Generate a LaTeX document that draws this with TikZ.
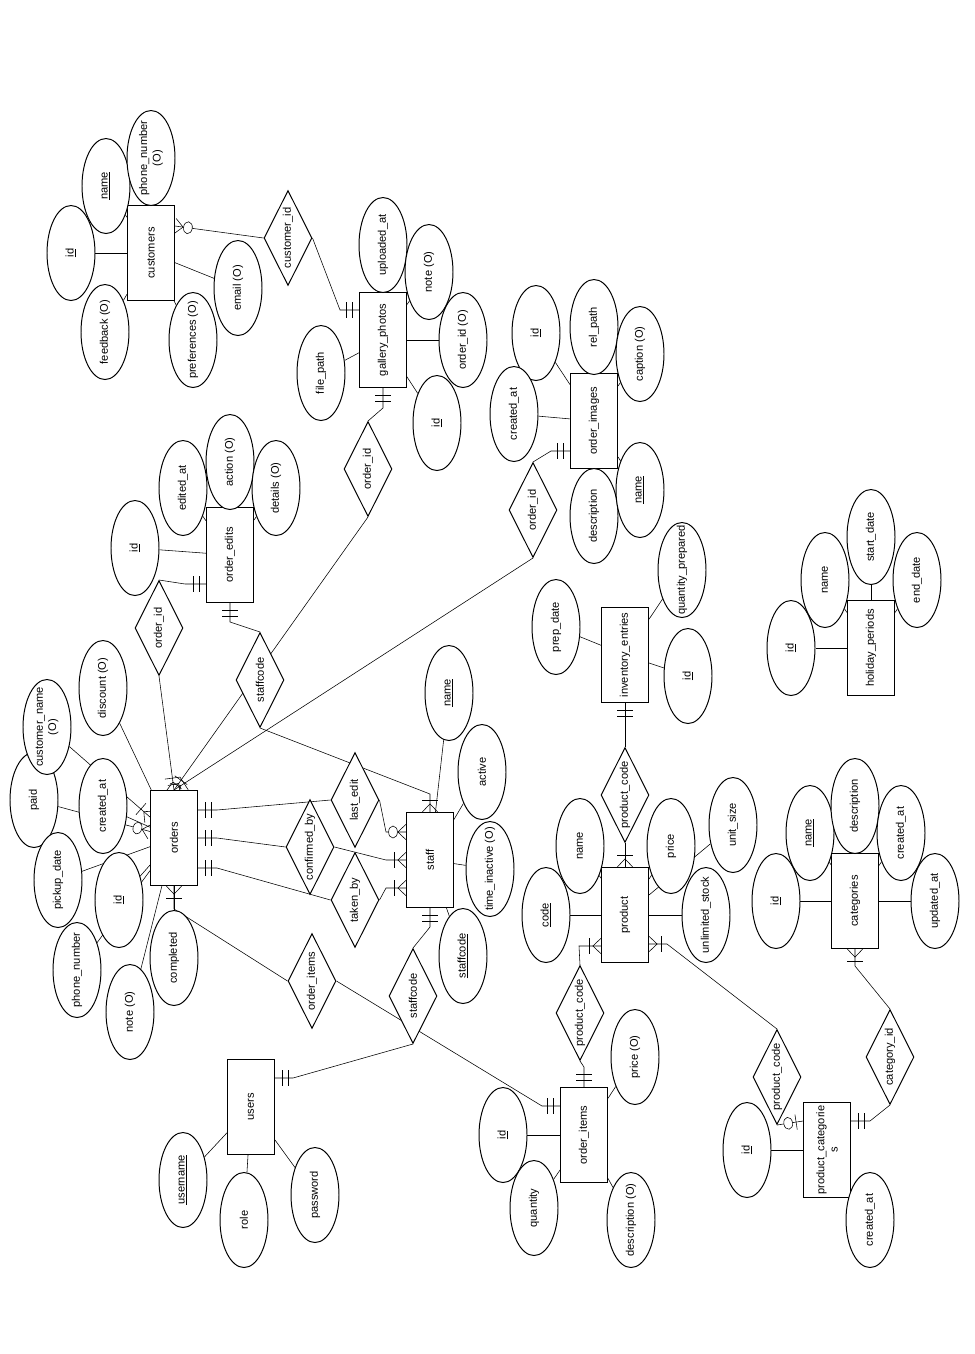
\documentclass[tikz,border=0pt]{standalone}
\usepackage{fontspec}
\setmainfont{Liberation Sans}
\usetikzlibrary{positioning, shapes.geometric, decorations.markings, backgrounds}

\tikzset{
  entity/.style={draw, fill=white, rotate=90, minimum width=2.375cm, minimum height=1.175cm, inner sep=1pt, align=center},
  attr/.style={draw, fill=white, ellipse, rotate=90, minimum width=2.375cm, minimum height=1.2cm, inner xsep=-9pt, inner ysep=0pt, align=center},
  rel/.style={draw, fill=white, diamond, aspect=2, rotate=90, minimum width=2.375cm, minimum height=1.2cm, inner sep=0pt},
  mandone/.style={postaction={decorate, decoration={markings,
      mark=at position -0.175cm with {\draw (0,-0.19cm) -- (0,0.19cm);},
      mark=at position -0.325cm with {\draw (0,-0.19cm) -- (0,0.19cm);}}}},
  onemany/.style={postaction={decorate, decoration={markings,
      mark=at position -0.1pt with {\draw (-0.2cm,0) -- (0,0.19cm) (-0.2cm,0) -- (0,-0.19cm);},
      mark=at position -0.3cm with {\draw (0,-0.19cm) -- (0,0.19cm);}}}},
  zeromany/.style={postaction={decorate, decoration={markings,
      mark=at position -0.1pt with {\draw (-0.2cm,0) -- (0,0.19cm) (-0.2cm,0) -- (0,-0.19cm);},
      mark=at position -0.325cm with {\draw[fill=white] (0,0) ellipse (0.11cm and 0.15cm);}}}},
  zeroone/.style={postaction={decorate, decoration={markings,
      mark=at position -0.175cm with {\draw (0,-0.19cm) -- (0,0.19cm);},
      mark=at position -0.375cm with {\draw[fill=white] (0,0) ellipse (0.11cm and 0.15cm);}}}},
}

\begin{document}
\begin{tikzpicture}[on grid, font=\fontsize{7.9}{9.5}\selectfont, line width=0.7pt]
\useasboundingbox (0,0) rectangle (24.35,-33.85);

% entities
\node[entity] (orders) at (4.35,-20.95) {orders};
\node[entity, above left=14.625cm and 0.575cm of orders] (cust) {customers};
\node[entity, above right=12.45cm and 5.225cm of orders] (gphotos) {gallery\_photos};
\node[entity, above right=7.075cm and 1.4cm of orders] (oedits) {order\_edits};
\node[entity, above right=10.425cm and 10.5cm of orders] (oimages) {order\_images};
\node[entity, below right=0.55cm and 6.4cm of orders] (staff) {staff};
\node[entity, above right=4.575cm and 11.275cm of orders] (inv) {inventory\_entries};
\node[entity, below right=1.925cm and 11.275cm of orders] (product) {product};
\node[entity, above right=4.75cm and 17.425cm of orders] (holiday) {holiday\_periods};
\node[entity, below right=1.575cm and 17.025cm of orders] (categories) {categories};
\node[entity, below right=6.725cm and 1.925cm of orders] (users) {users};
\node[entity, below right=7.425cm and 10.25cm of orders] (oitems) {order\_items};
\node[entity, below right=7.8cm and 16.325cm of orders] (pcats) {product\_categorie\\s};

% relationships
\node[rel, above right=15cm and 2.85cm of orders] (r-custid) {customer\_id};
\node[rel, above right=9.225cm and 4.85cm of orders] (r-gpoid) {order\_id};
\node[rel, above left=5.25cm and 0.375cm of orders] (r-eoid) {order\_id};
\node[rel, above right=3.95cm and 2.15cm of orders] (r-estaff) {staffcode};
\node[rel, above right=8.2cm and 8.975cm of orders] (r-ioid) {order\_id};
\node[rel, above right=0.95cm and 4.525cm of orders] (r-ledit) {last\_edit};
\node[rel, below right=0.225cm and 3.4cm of orders] (r-conf) {confirmed\_by};
\node[rel, below right=1.55cm and 4.525cm of orders] (r-taken) {taken\_by};
\node[rel, below right=3.575cm and 3.45cm of orders] (r-oitems) {order\_items};
\node[rel, below right=3.95cm and 5.975cm of orders] (r-ustaff) {staffcode};
\node[rel, above right=1.075cm and 11.275cm of orders] (r-invpc) {product\_code};
\node[rel, below right=4.375cm and 10.15cm of orders] (r-oipc) {product\_code};
\node[rel, below right=5.975cm and 15.075cm of orders] (r-pcpc) {product\_code};
\node[rel, below right=5.475cm and 17.9cm of orders] (r-catid) {category\_id};

% customers
\node[attr, left=2cm of cust] (cust-id) {\underline{id}};
\node[attr, above left=1.675cm and 1.125cm of cust] (cust-name) {\underline{name}};
\node[attr, above=2.375cm of cust] (cust-phone) {phone\_number\\(O)};
\node[attr, below left=1.975cm and 1.15cm of cust] (cust-feedback) {feedback (O)};
\node[attr, below right=2.175cm and 1.05cm of cust] (cust-pref) {preferences (O)};
\node[attr, below right=0.875cm and 2.175cm of cust] (cust-email) {email (O)};

% gallery_photos
\node[attr, above=2.375cm of gphotos] (gp-uploaded) {uploaded\_at};
\node[attr, above right=1.7cm and 1.15cm of gphotos] (gp-note) {note (O)};
\node[attr, right=2cm of gphotos] (gp-oid) {order\_id (O)};
\node[attr, below left=0.825cm and 1.55cm of gphotos] (gp-path) {file\_path};
\node[attr, below right=2.075cm and 1.35cm of gphotos] (gp-id) {\underline{id}};

% order_edits
\node[attr, above left=0.175cm and 2.375cm of oedits] (oe-id) {\underline{id}};
\node[attr, above left=1.675cm and 1.175cm of oedits] (oe-edited) {edited\_at};
\node[attr, above=2.325cm of oedits] (oe-action) {action (O)};
\node[attr, above right=1.675cm and 1.15cm of oedits] (oe-details) {details (O)};

% order_images
\node[attr, above left=2.2cm and 1.45cm of oimages] (oi-id) {\underline{id}};
\node[attr, above=2.35cm of oimages] (oi-path) {rel\_path};
\node[attr, above right=1.675cm and 1.15cm of oimages] (oi-caption) {caption (O)};
\node[attr, above left=0.175cm and 2cm of oimages] (oi-created) {created\_at};
\node[attr, below=2.375cm of oimages] (oi-desc) {description};
\node[attr, below right=1.725cm and 1.15cm of oimages] (oi-name) {\underline{name}};

% orders
\node[attr, above left=3.75cm and 1.775cm of orders] (o-discount) {discount (O)};
\node[attr, above left=0.95cm and 3.5cm of orders] (o-paid) {paid};
\node[attr, above left=2.775cm and 3.175cm of orders] (o-custname) {customer\_name\\(O)};
\node[attr, above left=0.8cm and 1.775cm of orders] (o-created) {created\_at};
\node[attr, below left=1.05cm and 2.9cm of orders] (o-pickup) {pickup\_date};
\node[attr, below left=3.3cm and 2.425cm of orders] (o-phone) {phone\_number};
\node[attr, below left=1.55cm and 1.375cm of orders] (o-id) {\underline{id}};
\node[attr, below left=4.35cm and 1.1cm of orders] (o-note) {note (O)};
\node[attr, below=3cm of orders] (o-completed) {completed};

% staff
\node[attr, above right=4.175cm and 0.475cm of staff] (s-name) {\underline{name}};
\node[attr, above right=2.2cm and 1.3cm of staff] (s-active) {active};
\node[attr, below right=0.225cm and 1.5cm of staff] (s-inactive) {time\_inactive (O)};
\node[attr, below right=2.4cm and 0.825cm of staff] (s-code) {\underline{staffcode}};

% inventory_entries
\node[attr, above left=0.7cm and 1.725cm of inv] (inv-prep) {prep\_date};
\node[attr, above right=2.125cm and 1.425cm of inv] (inv-qty) {quantity\_prepared};
\node[attr, below right=0.525cm and 1.575cm of inv] (inv-id) {\underline{id}};

% product
\node[attr, left=1.975cm of product] (p-code) {\underline{code}};
\node[attr, above left=1.725cm and 1.125cm of product] (p-name) {name};
\node[attr, above right=2.25cm and 2.7cm of product] (p-unit) {unit\_size};
\node[attr, above right=1.725cm and 1.15cm of product] (p-price) {price};
\node[attr, right=2.025cm of product] (p-stock) {unlimited\_stock};

% categories
\node[attr, left=1.975cm of categories] (c-id) {\underline{id}};
\node[attr, above left=1.7cm and 1.125cm of categories] (c-name) {\underline{name}};
\node[attr, above=2.375cm of categories] (c-desc) {description};
\node[attr, above right=1.7cm and 1.15cm of categories] (c-created) {created\_at};
\node[attr, right=2cm of categories] (c-updated) {updated\_at};

% holiday_periods
\node[attr, left=2cm of holiday] (h-id) {\underline{id}};
\node[attr, above left=1.7cm and 1.15cm of holiday] (h-name) {name};
\node[attr, above=2.775cm of holiday] (h-start) {start\_date};
\node[attr, above right=1.7cm and 1.15cm of holiday] (h-end) {end\_date};

% users
\node[attr, below left=1.825cm and 1.7cm of users] (u-name) {\underline{username}};
\node[attr, below left=2.825cm and 0.175cm of users] (u-role) {role};
\node[attr, below right=2.2cm and 1.6cm of users] (u-pass) {password};

% order_items
\node[attr, left=2.025cm of oitems] (it-id) {\underline{id}};
\node[attr, below left=1.825cm and 1.25cm of oitems] (it-qty) {quantity};
\node[attr, below right=2.125cm and 1.175cm of oitems] (it-desc) {description (O)};
\node[attr, above right=1.95cm and 1.275cm of oitems] (it-price) {price (O)};

% product_categories
\node[attr, left=2cm of pcats] (pc-id) {\underline{id}};
\node[attr, below right=1.75cm and 1.075cm of pcats] (pc-created) {created\_at};

\begin{scope}[on background layer]
% attribute lines
\path[draw]
(cust) edge (cust-id) edge (cust-name) edge (cust-phone) edge (cust-feedback) edge (cust-pref) edge (cust-email)
(gphotos) edge (gp-uploaded) edge (gp-note) edge (gp-oid) edge (gp-path) edge (gp-id)
(oedits) edge (oe-id) edge (oe-edited) edge (oe-action) edge (oe-details)
(oimages) edge (oi-id) edge (oi-path) edge (oi-caption) edge (oi-created) edge (oi-desc) edge (oi-name)
(orders) edge (o-discount) edge (o-created) edge (o-pickup) edge (o-id) edge (o-phone) edge (o-note) edge (o-completed)
(staff) edge (s-name) edge (s-active) edge (s-inactive) edge (s-code)
(inv) edge (inv-prep) edge (inv-qty) edge (inv-id)
(product) edge (p-code) edge (p-name) edge (p-price) edge (p-unit) edge (p-stock)
(categories) edge (c-id) edge (c-name) edge (c-desc) edge (c-created) edge (c-updated)
(holiday) edge (h-id) edge (h-name) edge (h-start) edge (h-end)
(users) edge (u-name) edge (u-role) edge (u-pass)
(oitems) edge (it-id) edge (it-qty) edge (it-desc) edge (it-price)
(pcats) edge (pc-id) edge (pc-created);
\draw[onemany] (o-custname) -- (orders);
\draw[zeromany] (o-paid) -- (orders);

% relationship lines
\draw[zeromany] (r-custid.north) -- ([yshift=0.675cm]cust.south);
\draw[mandone] (r-custid.south) -- ([xshift=-0.475cm,yshift=-0.45cm]gphotos.north east) -- ([yshift=-0.45cm]gphotos.north east);
\draw[mandone] (r-gpoid.east) -- ([yshift=-0.5cm]gphotos.west) -- (gphotos.west);
\draw[onemany] (r-gpoid.west) -- (orders.east);
\draw[mandone] (r-eoid.east) -- ([xshift=-0.525cm,yshift=0.475cm]oedits.north west) -- ([yshift=0.475cm]oedits.north west);
\draw[onemany] (r-eoid.west) -- (orders.east);
\draw[mandone] (r-estaff.east) -- ([yshift=-0.475cm]oedits.west) -- (oedits.west);
\draw[onemany] (r-estaff.west) -- ([yshift=0.45cm]staff.east) -- (staff.east);
\draw[mandone] (r-ioid.east) -- ([xshift=-0.475cm,yshift=0.45cm]oimages.north west) -- ([yshift=0.45cm]oimages.north west);
\draw[onemany] (r-ioid.west) -- (orders.east);
\draw[mandone] (r-ledit.north) -- ([xshift=0.475cm,yshift=0.7cm]orders.south) -- ([yshift=0.7cm]orders.south);
\draw[mandone] (r-conf.north) -- ([xshift=0.475cm]orders.south) -- (orders.south);
\draw[mandone] (r-taken.north) -- ([xshift=0.475cm,yshift=-0.75cm]orders.south) -- ([yshift=-0.75cm]orders.south);
\draw[zeromany] (r-ledit.south) -- ([xshift=-0.5cm,yshift=-0.5cm]staff.north east) -- ([yshift=-0.5cm]staff.north east);
\draw[onemany] (r-conf.south) -- ([xshift=-0.5cm]staff.north) -- (staff.north);
\draw[onemany] (r-taken.south) -- ([xshift=-0.5cm,yshift=-0.7cm]staff.north) -- ([yshift=-0.7cm]staff.north);
\draw[mandone] (r-ustaff.east) -- ([yshift=-0.475cm]staff.west) -- (staff.west);
\draw[mandone] (r-ustaff.west) -- ([xshift=0.45cm,yshift=-0.475cm]users.south east) -- ([yshift=-0.475cm]users.south east);
\draw[onemany] (r-oitems.north) -- ([yshift=-0.575cm]orders.west) -- (orders.west);
\draw[mandone] (r-oitems.south) -- ([xshift=-0.45cm,yshift=-0.475cm]oitems.north east) -- ([yshift=-0.475cm]oitems.north east);
\draw[mandone] (r-invpc.east) -- (inv.west);
\draw[onemany] (r-invpc.west) -- (product.east);
\draw[onemany] (r-oipc.east) -- ([xshift=-0.55cm,yshift=0.425cm]product.north west) -- ([yshift=0.425cm]product.north west);
\draw[mandone] (r-oipc.west) -- ([yshift=0.5cm]oitems.east) -- (oitems.east);
\draw[onemany] (r-pcpc.east) -- ([xshift=0.45cm,yshift=0.475cm]product.south west) -- ([yshift=0.475cm]product.south west);
\draw[zeroone] (r-pcpc.west) -- ([yshift=-0.475cm]pcats.north east);
\draw[onemany] (r-catid.east) -- ([yshift=-0.425cm]categories.west) -- (categories.west);
\draw[mandone] (r-catid.west) -- ([xshift=0.475cm,yshift=-0.475cm]pcats.south east) -- ([yshift=-0.475cm]pcats.south east);
\end{scope}
\end{tikzpicture}
\end{document}
